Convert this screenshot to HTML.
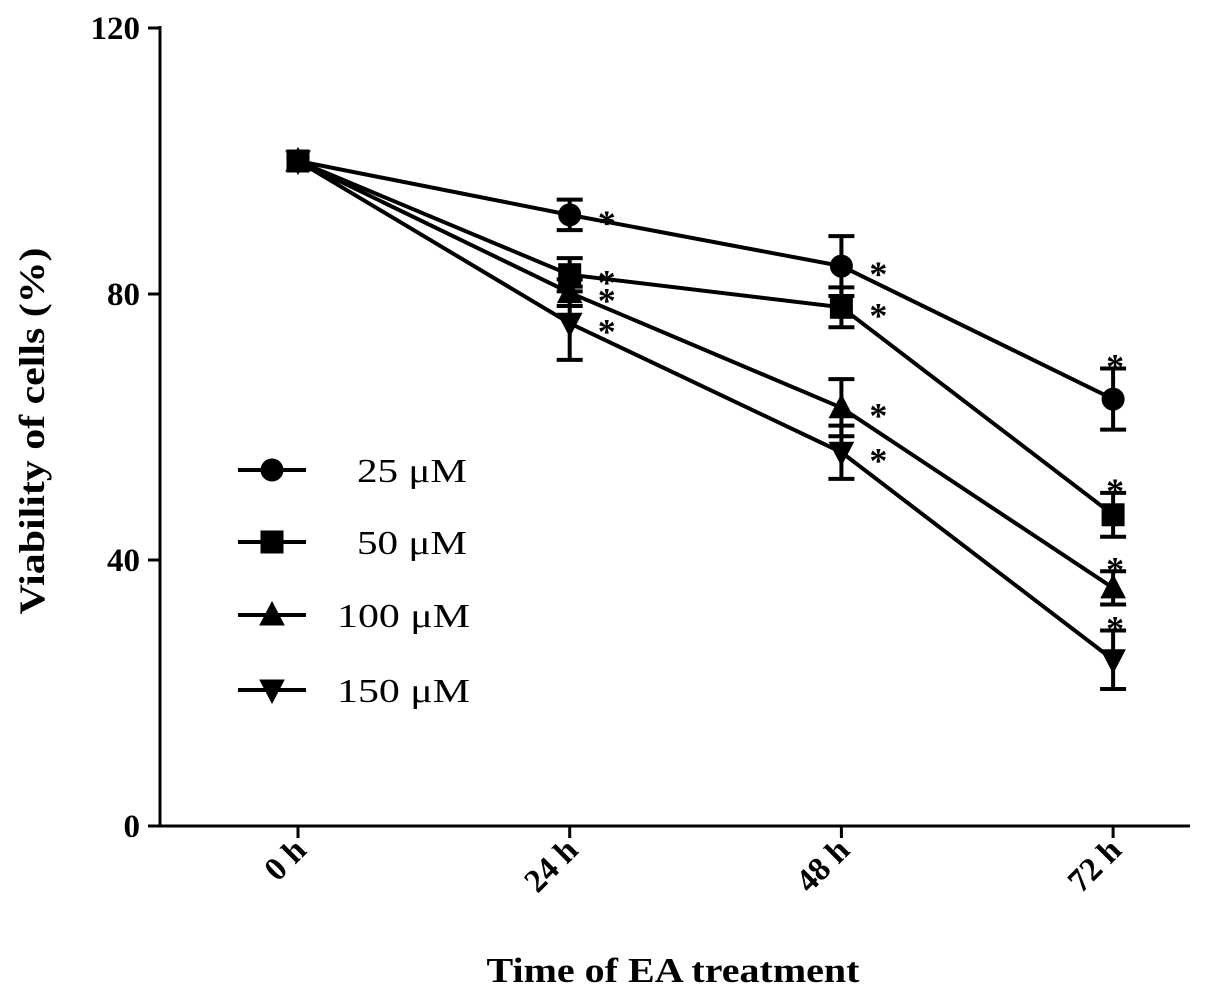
<!DOCTYPE html>
<html><head><meta charset="utf-8"><style>
body{margin:0;background:#fff}
svg text{font-family:"Liberation Serif",serif;font-weight:bold;fill:#000}
</style></head><body>
<svg id="c" width="1205" height="997" xmlns="http://www.w3.org/2000/svg"></svg>
<script>
const categories=["0 h","24 h","48 h","72 h"];
const seriesNames=["25 μM","50 μM","100 μM","150 μM"];
const s25=[100,91.9,84.2,64.2];
const s50=[100,82.9,78,46.8];
const s100=[100,80.2,62.9,35.8];
const s150=[100,75.6,56.2,25];
const e25=[0,2.3,4.5,4.6];
const e50=[0,2.5,3,3.3];
const e100=[0,2,4.3,2.5];
const e150=[0,5.5,4,4.4];
const yTicks=[0,40,80,120];
const series=[s25,s50,s100,s150],errs=[e25,e50,e100,e150];
const markers=["circle","square","up","down"];
const svg=document.getElementById('c');
const NS="http://www.w3.org/2000/svg";
const y=v=>826-v*6.65;
const x=i=>298+i*271.7;
function el(t,a,p){const e=document.createElementNS(NS,t);for(const k in a)e.setAttribute(k,a[k]);(p||svg).appendChild(e);return e;}
let ax=el('g',{});


el('line',{x1:160,y1:26,x2:160,y2:827,stroke:'#000','stroke-width':3},ax);
el('line',{x1:158,y1:826,x2:1190,y2:826,stroke:'#000','stroke-width':3},ax);
yTicks.forEach(t=>{el('line',{x1:148,y1:y(t),x2:160,y2:y(t),stroke:'#000','stroke-width':3},ax);
 const tx=el('text',{x:140,y:y(t)+11,'text-anchor':'end','font-size':33},ax);tx.textContent=t;
 
 });
categories.forEach((c,i)=>{el('line',{x1:x(i),y1:826,x2:x(i),y2:838,stroke:'#000','stroke-width':3},ax);
 const tx=el('text',{x:x(i)+10,y:852,'text-anchor':'end','font-size':33,transform:`rotate(-45 ${x(i)+10} 852)`},ax);tx.textContent=c;
 
 });
let yt=el('text',{x:44,y:431,'text-anchor':'middle','font-size':36,textLength:367,lengthAdjust:'spacingAndGlyphs',transform:'rotate(-90 44 431)'});yt.textContent='Viability of cells (%)';


let xt=el('text',{x:673,y:982,'text-anchor':'middle','font-size':35,textLength:373,lengthAdjust:'spacingAndGlyphs'});xt.textContent='Time of EA treatment';


function marker(type,cx,cy,g){
 if(type==='circle')el('circle',{cx,cy,r:11},g);
 else if(type==='square')el('rect',{x:cx-11,y:cy-11,width:22,height:22},g);
 else if(type==='up')el('polygon',{points:`${cx},${cy-13} ${cx-12},${cy+10} ${cx+12},${cy+10}`},g);
 else el('polygon',{points:`${cx},${cy+13} ${cx-12},${cy-10} ${cx+12},${cy-10}`},g);
}
series.forEach((s,k)=>{
 const g=el('g',{fill:'#000',stroke:'#000'});
 
 
 el('polyline',{points:s.map((v,i)=>x(i)+','+y(v)).join(' '),fill:'none','stroke-width':4},g);
 s.forEach((v,i)=>{
  const e=errs[k][i];
  if(e>0){el('line',{x1:x(i),y1:y(v+e),x2:x(i),y2:y(v-e),'stroke-width':4},g);
   el('line',{x1:x(i)-13,y1:y(v+e),x2:x(i)+13,y2:y(v+e),'stroke-width':4},g);
   el('line',{x1:x(i)-13,y1:y(v-e),x2:x(i)+13,y2:y(v-e),'stroke-width':4},g);}
  marker(markers[k],x(i),y(v),g);
  if(i>0){const st=el('text',{x:i===3?x(i)+2:x(i)+37,y:i===3?y(v+e)+10:y(v)+20,'text-anchor':'middle','font-size':36,stroke:'none'},g);st.textContent='*';
   
   }
 });
});
const ly=[470,542,615,690];
seriesNames.forEach((n,k)=>{
 const g=el('g',{fill:'#000',stroke:'#000'});
 
 
 el('line',{x1:238,y1:ly[k],x2:306,y2:ly[k],'stroke-width':4},g);
 marker(markers[k],272,ly[k],g);
 const t=el('text',{x:k<2?357:337,y:ly[k]+12,'font-size':34,textLength:k<2?110:133,lengthAdjust:'spacingAndGlyphs',stroke:'none',style:'font-weight:normal'},g);t.textContent=n;
});
</script>
</body></html>
